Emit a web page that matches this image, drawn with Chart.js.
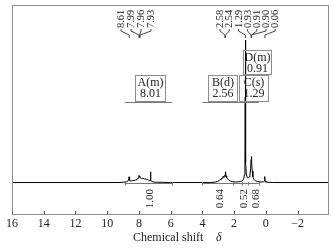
<!DOCTYPE html>
<html><head><meta charset="utf-8">
<script src="https://cdn.jsdelivr.net/npm/chart.js@4/dist/chart.umd.min.js"></script>
<style>html,body{margin:0;padding:0;background:#fff}canvas{display:block}</style>
</head><body>
<canvas id="c" width="334" height="250"></canvas>
<script>
// Chemical shift (ppm) and relative intensity of the 1H NMR spectrum
const shifts = [16, 9.2, 9.0, 8.8, 8.7, 8.65, 8.62, 8.59, 8.5, 8.4, 8.3, 8.2, 8.1, 8.04, 8.0, 7.97, 7.95, 7.92, 7.85, 7.75, 7.65, 7.55, 7.45, 7.35, 7.29, 7.27, 7.25, 7.2, 7.1, 6.9, 6.5, 6.0,
  3.5, 3.2, 3.05, 2.95, 2.88, 2.84, 2.78, 2.74, 2.69, 2.65, 2.6, 2.57, 2.54, 2.51, 2.47, 2.42, 2.35, 2.25, 2.1, 1.9, 1.7, 1.55, 1.45, 1.39, 1.35, 1.32, 1.30, 1.29, 1.28, 1.26, 1.23, 1.18, 1.12, 1.06, 1.0, 0.96, 0.93, 0.91, 0.89, 0.86, 0.82, 0.76, 0.65, 0.5, 0.3, 0.15, 0.09, 0.07, 0.05, 0.0, -0.2, -0.5, -3.98];
const intensities = [0, 0, 0.2, 0.5, 0.9, 1.8, 4.0, 1.5, 1.0, 1.3, 1.5, 1.8, 2.2, 3.2, 5.0, 3.8, 4.6, 3.4, 2.8, 2.9, 2.6, 2.4, 2.0, 1.4, 1.4, 7.5, 1.6, 0.8, 0.4, 0.2, 0.1, 0,
  0, 0.3, 0.7, 1.2, 2.2, 1.8, 3.2, 2.7, 4.2, 3.6, 5.0, 4.2, 7.5, 4.6, 3.6, 2.6, 1.8, 1.1, 0.6, 0.4, 0.5, 0.9, 1.6, 2.8, 5.5, 14, 60, 100, 60, 14, 6, 3.6, 3.2, 4, 6, 10, 16, 18.2, 15, 8, 4, 2.2, 1.2, 0.6, 0.4, 0.4, 1.0, 4.2, 1.0, 0.3, 0.1, 0, 0];

// Peak picking labels
const peakGroup1 = [8.61, 7.99, 7.96, 7.93];
const peakGroup2 = [2.58, 2.54, 1.29, 0.93, 0.91, 0.90, 0.06];

// Integral regions and values
const integralRanges = [[8.9, 5.9], [4.0, 0.45]];
const integralCuts = [2.1, 1.5, 1.1];
const integralValues = ['1.00', '0.64', '0.52', '0.68'];
const integralAt = [7.31, 2.89, 1.40, 0.61];

// Multiplet annotations
const multipletNames = ['A(m)', 'B(d)', 'C(s)', 'D(m)'];
const multipletShifts = ['8.01', '2.56', '1.29', '0.91'];
const multipletRanges = [[8.9, 5.9], [4.0, 1.85], [1.95, 0.45], null];

// Axis
const xMin = -3.98, xMax = 16, xStep = 2;
const yMin = -22.8, yMax = 124.6;

const spectrum = shifts.map((s, i) => ({x: s, y: intensities[i]}));

const SERIF = '"Liberation Serif", "DejaVu Serif", serif';

const annot = {
  id: 'annot',
  afterDraw(chart) {
    const {ctx, chartArea: a, scales: {x}} = chart;
    const px = v => x.getPixelForValue(v);
    ctx.save();
    // frame
    ctx.strokeStyle = '#8c8c8c'; ctx.lineWidth = 1;
    ctx.strokeRect(Math.round(a.left) + 0.5, Math.round(a.top) + 0.5, Math.round(a.right - a.left) - 1, Math.round(a.bottom - a.top) - 1);
    // inward ticks
    ctx.strokeStyle = '#555';
    x.ticks.forEach(t => {
      const p = Math.round(px(t.value)) + 0.5;
      ctx.beginPath(); ctx.moveTo(p, a.bottom - 1); ctx.lineTo(p, a.bottom - 4); ctx.stroke();
    });
    // integral lines
    const iy = 183.5;
    ctx.strokeStyle = '#777';
    integralRanges.forEach(r => {
      const l = px(r[0]), rr = px(r[1]);
      ctx.beginPath(); ctx.moveTo(l, iy); ctx.lineTo(rr, iy); ctx.stroke();
      [l, rr].forEach(p => { ctx.beginPath(); ctx.moveTo(Math.round(p) + 0.5, iy - 1.5); ctx.lineTo(Math.round(p) + 0.5, iy + 2); ctx.stroke(); });
    });
    integralCuts.forEach(c => {
      const p = Math.round(px(c)) + 0.5;
      ctx.beginPath(); ctx.moveTo(p, iy - 1.5); ctx.lineTo(p, iy + 2); ctx.stroke();
    });
    // integral values
    ctx.fillStyle = '#222';
    ctx.font = '11px ' + SERIF;
    ctx.textAlign = 'center'; ctx.textBaseline = 'middle';
    integralValues.forEach((t, i) => {
      ctx.save(); ctx.translate(px(integralAt[i]), 198.5); ctx.rotate(-Math.PI / 2);
      ctx.fillText(t, 0, 0); ctx.restore();
    });
    // peak labels
    ctx.font = '10.5px ' + SERIF;
    ctx.textAlign = 'left';
    const drawGroup = (vals, x0, step) => {
      vals.forEach((v, i) => {
        const lx = x0 + i * step;
        ctx.save(); ctx.translate(lx, 28); ctx.rotate(-Math.PI / 2);
        ctx.fillText(v.toFixed(2), 0, 0.5); ctx.restore();
        const pk = px(v);
        ctx.strokeStyle = '#444';
        ctx.beginPath(); ctx.moveTo(lx, 29); ctx.lineTo(lx, 31); ctx.lineTo(pk, 35); ctx.lineTo(pk, 38); ctx.stroke();
      });
    };
    drawGroup(peakGroup1, 121, 10);
    drawGroup(peakGroup2, 220, 9.2);
    // multiplet range lines
    ctx.strokeStyle = '#777';
    const my = 102.5;
    multipletRanges.forEach(r => {
      if (!r) return;
      const l = px(r[0]), rr = px(r[1]);
      ctx.beginPath(); ctx.moveTo(l, my); ctx.lineTo(rr, my); ctx.stroke();
    });
    // multiplet boxes
    const boxes = [[135, 75, 30, 26], [208, 75, 29, 26], [239, 75, 29, 26], [243, 50, 28, 24]];
    ctx.font = '12px ' + SERIF;
    ctx.textAlign = 'center'; ctx.textBaseline = 'middle';
    boxes.forEach((b, i) => {
      ctx.strokeStyle = '#8c8c8c';
      ctx.strokeRect(b[0] + 0.5, b[1] + 0.5, b[2], b[3]);
      ctx.fillStyle = '#222';
      ctx.fillText(multipletNames[i], b[0] + b[2] / 2 + 0.5, b[1] + 7.5);
      ctx.fillText(multipletShifts[i], b[0] + b[2] / 2 + 0.5, b[1] + 19);
    });
    // axis title
    ctx.font = '12px ' + SERIF;
    ctx.textAlign = 'left'; ctx.textBaseline = 'middle';
    ctx.fillStyle = '#222';
    ctx.fillText('Chemical shift', 133, 238);
    ctx.font = 'italic 12px ' + SERIF;
    ctx.fillText('δ', 216, 238);
    ctx.restore();
  }
};

new Chart(document.getElementById('c'), {
  type: 'line',
  data: {datasets: [{
    data: spectrum, borderColor: '#000', borderWidth: 1, pointRadius: 0, tension: 0, fill: false
  }]},
  options: {
    responsive: false, animation: false,
    layout: {padding: {left: 12, right: 5, top: 5, bottom: 0}},
    plugins: {legend: {display: false}, tooltip: {enabled: false}},
    scales: {
      x: {
        type: 'linear', reverse: true, min: xMin, max: xMax,
        afterFit: s => { s.height = 35; },
        grid: {display: false, drawTicks: false},
        border: {display: false},
        ticks: {stepSize: xStep, includeBounds: false, maxRotation: 0, padding: 2, color: '#222',
          font: {family: SERIF, size: 12},
          callback: v => v < 0 ? '\u2212' + Math.abs(v) : String(v)}
      },
      y: {display: false, min: yMin, max: yMax}
    }
  },
  plugins: [annot]
});
</script>
</body></html>
